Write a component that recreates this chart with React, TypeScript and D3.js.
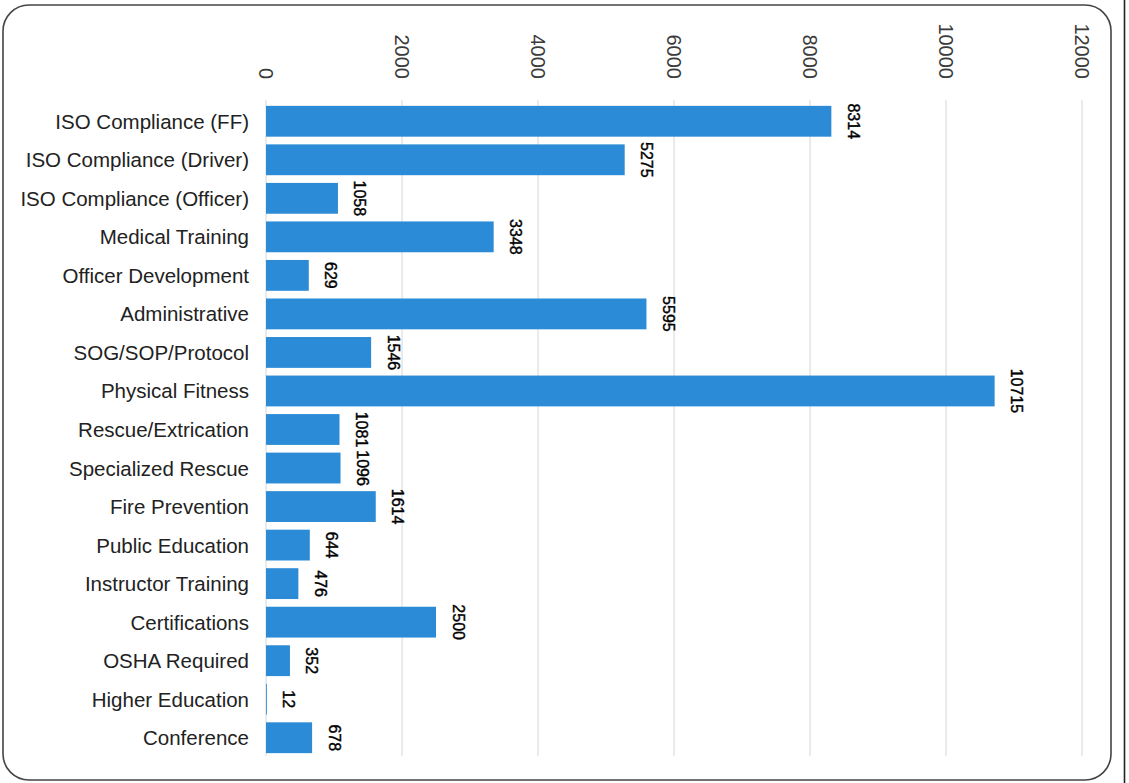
import React from "react";
import * as d3 from "d3";

const categories = [
  "ISO Compliance (FF)",
  "ISO Compliance (Driver)",
  "ISO Compliance (Officer)",
  "Medical Training",
  "Officer Development",
  "Administrative",
  "SOG/SOP/Protocol",
  "Physical Fitness",
  "Rescue/Extrication",
  "Specialized Rescue",
  "Fire Prevention",
  "Public Education",
  "Instructor Training",
  "Certifications",
  "OSHA Required",
  "Higher Education",
  "Conference",
];
const hours = [8314, 5275, 1058, 3348, 629, 5595, 1546, 10715, 1081, 1096, 1614, 644, 476, 2500, 352, 12, 678];
const tickValues = [0, 2000, 4000, 6000, 8000, 10000, 12000];

const W = 1129;
const H = 783;
const FONT = "'Liberation Sans', Arial, sans-serif";

export default function App() {
  const x = d3.scaleLinear().domain([0, 12000]).range([266, 1082]);
  const y = d3
    .scaleBand<string>()
    .domain(categories)
    .range([102, 757])
    .paddingInner(0.2)
    .paddingOuter(0.1);

  return (
    <svg
      width={W}
      height={H}
      style={{ position: "absolute", left: 0, top: 0, background: "#fff" }}
      fontFamily={FONT}
    >
      {/* frame */}
      <rect x={3} y={5} width={1108} height={775} rx={26} ry={26} fill="none" stroke="#444" strokeWidth={1.6} />
      <line x1={1124.5} x2={1124.5} y1={0} y2={H} stroke="#222" strokeWidth={1.6} />

      {/* gridlines */}
      {tickValues.map((t) => (
        <line key={"g" + t} x1={x(t)} x2={x(t)} y1={100} y2={756} stroke="#d6d6d6" strokeWidth={1} />
      ))}

      {/* tick labels */}
      {tickValues.map((t) => (
        <text
          key={"t" + t}
          transform={`translate(${x(t)},79) rotate(90)`}
          textAnchor="end"
          dominantBaseline="central"
          fontSize={20}
          fill="#3a3a3a"
        >
          {t}
        </text>
      ))}

      {/* bars */}
      {categories.map((c, i) => (
        <rect
          key={"b" + c}
          x={x(0)}
          y={y(c)!}
          width={x(hours[i]) - x(0)}
          height={y.bandwidth()}
          fill="#2b8bd6"
        />
      ))}

      {/* category labels */}
      {categories.map((c) => (
        <text
          key={"c" + c}
          x={249}
          y={y(c)! + y.bandwidth() / 2}
          textAnchor="end"
          dominantBaseline="central"
          fontSize={20.5}
          fill="#222"
        >
          {c}
        </text>
      ))}

      {/* value labels */}
      {categories.map((c, i) => (
        <text
          key={"v" + c}
          transform={`translate(${x(hours[i]) + 22},${y(c)! + y.bandwidth() / 2}) rotate(90)`}
          textAnchor="middle"
          dominantBaseline="central"
          fontSize={16}
          fill="#000"
          stroke="#000"
          strokeWidth={0.4}
        >
          {hours[i]}
        </text>
      ))}
    </svg>
  );
}
